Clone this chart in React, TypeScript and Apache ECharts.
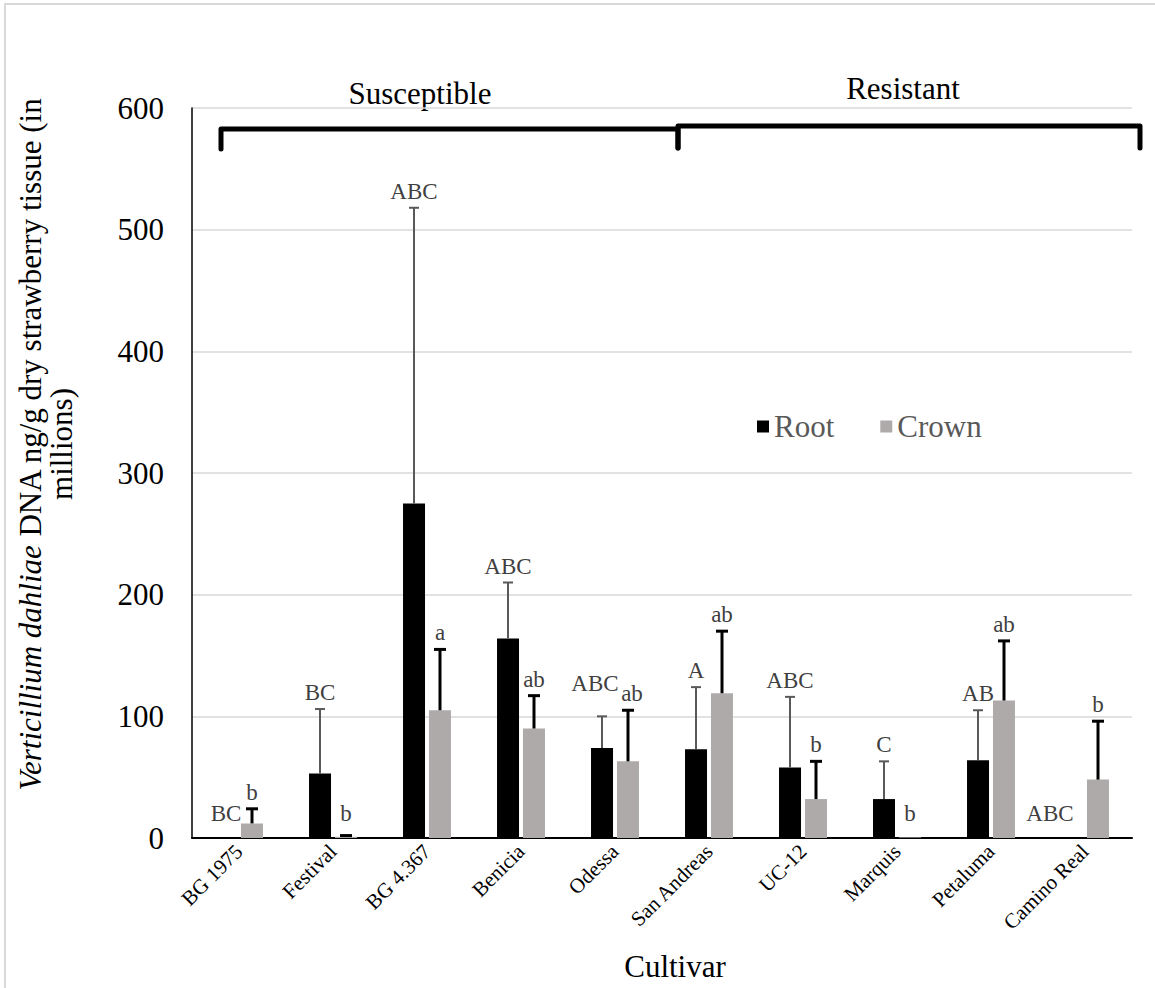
import React, { useEffect, useRef } from "react";
import * as echarts from "echarts";

// Cultivars, grouped as susceptible (first five) and resistant (last five)
const categories = [
  "BG 1975",
  "Festival",
  "BG 4.367",
  "Benicia",
  "Odessa",
  "San Andreas",
  "UC-12",
  "Marquis",
  "Petaluma",
  "Camino Real",
];

// Mean DNA (ng/g dry tissue, in millions) and upper standard error
const rootMean = [0, 53, 275, 164, 74, 73, 58, 32, 64, 0];
const rootErr = [0, 53, 243, 46, 26, 51, 58, 31, 41, 0];
const crownMean = [12, 1, 105, 90, 63, 119, 32, 0.5, 113, 48];
const crownErr = [12, 1, 50, 27, 42, 51, 31, 0, 49, 48];

// Mean separation letters
const rootLetters = ["BC", "BC", "ABC", "ABC", "ABC", "A", "ABC", "C", "AB", "ABC"];
const crownLetters = ["b", "b", "a", "ab", "ab", "ab", "b", "b", "ab", "b"];

const yTicks = { min: 0, max: 600, interval: 100 };

const SERIF = "Liberation Serif";
const BAR_W = 22;
const BAR_SHIFT = 13; // half of bar width + gap between the paired bars
const LABEL_COLOR = "#404040";

// small pixel nudges that keep neighbouring letter labels apart
const rootLabelNudge: Record<string, [number, number]> = {
  Odessa: [-7, -16],
  "Camino Real": [-22, 0],
};
const crownLabelNudge: Record<string, [number, number]> = {
  Odessa: [4, 0],
};

function errorSeries(
  name: string,
  mean: number[],
  err: number[],
  letters: string[],
  nudge: Record<string, [number, number]>,
  dx: number,
  color: string,
  width: number,
  capW: number
) {
  return {
    type: "custom",
    name,
    z: 5,
    silent: true,
    data: categories.map((_, i) => [i, mean[i], err[i]]),
    renderItem: (params: any, api: any) => {
      const i = api.value(0);
      const m = api.value(1);
      const e = api.value(2);
      const base = api.coord([i, m]);
      const top = api.coord([i, m + e]);
      const x = base[0] + dx;
      const children: any[] = [];
      if (e > 0) {
        children.push({
          type: "line",
          shape: { x1: x, y1: base[1], x2: x, y2: top[1] },
          style: { stroke: color, lineWidth: width },
        });
        children.push({
          type: "line",
          shape: { x1: x - capW / 2, y1: top[1], x2: x + capW / 2, y2: top[1] },
          style: { stroke: color, lineWidth: width },
        });
      }
      const anchor = api.coord([i, Math.max(m + e, 6.5)]);
      const [nx, ny] = nudge[categories[i]] || [0, 0];
      children.push({
        type: "text",
        x: x + nx,
        y: anchor[1] - 5 + ny,
        style: {
          text: letters[params.dataIndex],
          fill: LABEL_COLOR,
          fontFamily: SERIF,
          fontSize: 23,
          textAlign: "center",
          textVerticalAlign: "bottom",
        },
      });
      return { type: "group", children };
    },
  };
}

function titleText(text: string, x: number, y: number) {
  return {
    type: "text",
    x,
    y,
    silent: true,
    style: {
      text,
      fontFamily: SERIF,
      fontSize: 31,
      fill: "#000",
      textAlign: "center",
      textVerticalAlign: "middle",
    },
  };
}

export default function App() {
  const ref = useRef<HTMLDivElement>(null);

  useEffect(() => {
    if (!ref.current) return;
    const chart = echarts.init(ref.current, null, { renderer: "svg" });

    const option: any = {
      animation: false,
      backgroundColor: "#ffffff",
      textStyle: { fontFamily: SERIF },
      grid: { left: 192, right: 23, top: 108, bottom: 150, containLabel: false },
      legend: {
        data: ["Root", "Crown"],
        left: 752,
        top: 406,
        icon: "rect",
        itemWidth: 12,
        itemHeight: 12,
        itemGap: 46,
        textStyle: { fontFamily: SERIF, fontSize: 31, color: "#595959" },
      },
      xAxis: {
        type: "category",
        data: categories,
        axisLine: { lineStyle: { color: "#000", width: 2 } },
        axisTick: { show: false },
        axisLabel: {
          rotate: 45,
          interval: 0,
          margin: 10,
          fontFamily: SERIF,
          fontSize: 21,
          color: "#000",
        },
      },
      yAxis: {
        type: "value",
        min: yTicks.min,
        max: yTicks.max,
        interval: yTicks.interval,
        axisLine: { show: true, lineStyle: { color: "#000", width: 1.5 } },
        axisTick: { show: false },
        splitLine: { lineStyle: { color: "#d9d9d9", width: 1.5 } },
        axisLabel: { margin: 28, fontFamily: SERIF, fontSize: 31, color: "#000" },
      },
      series: [
        {
          name: "Root",
          type: "bar",
          data: rootMean,
          barWidth: BAR_W,
          barGap: "18%",
          itemStyle: { color: "#000000" },
        },
        {
          name: "Crown",
          type: "bar",
          data: crownMean,
          barWidth: BAR_W,
          itemStyle: { color: "#AEAAAA" },
        },
        errorSeries("Root SE", rootMean, rootErr, rootLetters, rootLabelNudge, -BAR_SHIFT, "#595959", 2, 10),
        errorSeries("Crown SE", crownMean, crownErr, crownLetters, crownLabelNudge, BAR_SHIFT, "#000000", 3, 12),
      ],
      graphic: [
        {
          type: "rect",
          silent: true,
          shape: { x: 5, y: 4, width: 1300, height: 1200 },
          style: { fill: "none", stroke: "#d9d9d9", lineWidth: 2 },
        },
        {
          type: "polyline",
          silent: true,
          shape: { points: [[221, 149], [221, 129], [678, 129], [678, 148]] },
          style: { stroke: "#000", lineWidth: 5, fill: "none", lineJoin: "round", lineCap: "round" },
        },
        {
          type: "polyline",
          silent: true,
          shape: { points: [[678, 148], [678, 126], [1140, 126], [1140, 148]] },
          style: { stroke: "#000", lineWidth: 5, fill: "none", lineJoin: "round", lineCap: "round" },
        },
        titleText("Susceptible", 420, 93),
        titleText("Resistant", 903, 88),
        titleText("Cultivar", 675, 966),
        {
          type: "text",
          x: 46,
          y: 444,
          rotation: Math.PI / 2,
          silent: true,
          style: {
            text: "{i|Verticillium dahliae} DNA ng/g dry strawberry tissue (in\nmillions)",
            fontFamily: SERIF,
            fontSize: 31,
            fill: "#000",
            textAlign: "center",
            textVerticalAlign: "middle",
            lineHeight: 31,
            rich: {
              i: { fontStyle: "italic", fontFamily: SERIF, fontSize: 31, lineHeight: 31 },
            },
          },
        },
      ],
    };

    chart.setOption(option);
    return () => chart.dispose();
  }, []);

  return (
    <div
      ref={ref}
      style={{ position: "absolute", left: 0, top: 0, width: 1155, height: 988 }}
    />
  );
}
